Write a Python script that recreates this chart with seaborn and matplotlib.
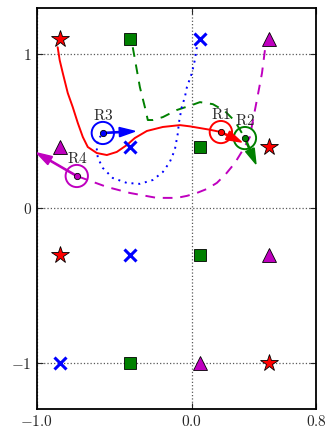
import numpy as np
import matplotlib
matplotlib.use('Agg')
import matplotlib.pyplot as plt
import seaborn as sns
from matplotlib.patches import Circle

sns.set_style('ticks')
plt.rcParams['mathtext.fontset'] = 'cm'
plt.rcParams['font.family'] = ['DejaVu Sans']

# цілі (маркери сітки)
star_x = [-0.85, 0.5, -0.85, 0.5]
star_y = [1.1, 0.4, -0.3, -1.0]
square_x = [-0.4, 0.05, 0.05, -0.4]
square_y = [1.1, 0.4, -0.3, -1.0]
cross_x = [0.05, -0.4, -0.4, -0.85]
cross_y = [1.1, 0.4, -0.3, -1.0]
tri_x = [0.5, -0.85, 0.5, 0.05]
tri_y = [1.1, 0.4, -0.3, -1.0]

# траєкторії
red_x = [-0.865, -0.852, -0.832, -0.800, -0.768, -0.735, -0.703, -0.671, -0.613,
         -0.548, -0.484, -0.419, -0.368, -0.290, -0.187, -0.077, -0.013, 0.116, 0.187]
red_y = [1.045, 0.961, 0.877, 0.748, 0.657, 0.553, 0.463, 0.398, 0.359,
         0.346, 0.366, 0.411, 0.456, 0.502, 0.528, 0.540, 0.532, 0.510, 0.495]
green_x = [-0.381, -0.335, -0.303, -0.284, -0.252, -0.187, -0.097, 0.0,
           0.052, 0.135, 0.213, 0.277, 0.342]
green_y = [1.045, 0.786, 0.657, 0.573, 0.573, 0.592, 0.638, 0.670,
           0.689, 0.676, 0.631, 0.566, 0.456]
blue_x = [0.032, 0.019, 0.0, -0.032, -0.045, -0.065, -0.084, -0.090, -0.110, -0.142,
          -0.187, -0.252, -0.335, -0.419, -0.510, -0.574, -0.606, -0.613, -0.606, -0.574]
blue_y = [1.045, 0.961, 0.877, 0.786, 0.722, 0.657, 0.553, 0.489, 0.379, 0.301,
          0.236, 0.184, 0.159, 0.165, 0.197, 0.262, 0.327, 0.379, 0.443, 0.489]
mag_x = [0.471, 0.452, 0.419, 0.394, 0.374, 0.329, 0.277, 0.219, 0.161, 0.097,
         0.032, -0.032, -0.097, -0.226, -0.400, -0.548, -0.671, -0.742]
mag_y = [1.026, 0.877, 0.702, 0.573, 0.463, 0.379, 0.294, 0.223, 0.165, 0.126,
         0.100, 0.081, 0.068, 0.068, 0.100, 0.139, 0.184, 0.210]

# роботи
robot_names = ['R1', 'R2', 'R3', 'R4']
robot_x = [0.187, 0.342, -0.574, -0.742]
robot_y = [0.495, 0.456, 0.489, 0.210]
tip_x = [0.32, 0.413, -0.368, -1.0]
tip_y = [0.43, 0.288, 0.50, 0.36]
robot_colors = ['red', 'green', 'blue', 'm']

xticks = [-1.0, 0.0, 0.8]
xtick_labels = ['$-1.0$', '$0.0$', '$0.8$']
yticks = [-1, 0, 1]
ytick_labels = ['$-1$', '$0$', '$1$']

fig = plt.figure(figsize=(3.34, 4.41), dpi=100)
ax = fig.add_axes([0.11, 0.073, 0.836, 0.909])

sns.lineplot(x=red_x, y=red_y, sort=False, estimator=None, color='red', lw=1.4, ax=ax)
sns.lineplot(x=green_x, y=green_y, sort=False, estimator=None, color='green', lw=1.4,
             linestyle=(0, (5, 4)), ax=ax)
sns.lineplot(x=blue_x, y=blue_y, sort=False, estimator=None, color='blue', lw=1.4,
             linestyle=(0, (1, 2.5)), ax=ax)
sns.lineplot(x=mag_x, y=mag_y, sort=False, estimator=None, color='m', lw=1.4,
             linestyle=(0, (5, 4)), ax=ax)

ax.plot(star_x, star_y, ls='none', marker='*', color='red', mec='k', mew=0.6, ms=13)
ax.plot(square_x, square_y, ls='none', marker='s', color='green', mec='k', mew=0.6, ms=8)
ax.plot(cross_x, cross_y, ls='none', marker='x', color='blue', mew=2.2, ms=8)
ax.plot(tri_x, tri_y, ls='none', marker='^', color='m', mec='k', mew=0.6, ms=10)

for name, x, y, tx, ty, c in zip(robot_names, robot_x, robot_y, tip_x, tip_y, robot_colors):
    ax.add_patch(Circle((x, y), 0.072, fill=False, ec=c, lw=1.4, zorder=4))
    ax.arrow(x, y, tx - x, ty - y, width=0.008, head_width=0.06, head_length=0.1,
             length_includes_head=True, color=c, zorder=5)
    ax.plot([x], [y], marker='o', color=c, mec='k', mew=0.6, ms=4.5, zorder=6)
    ax.text(x, y + 0.065, '$\\mathrm{%s}$' % name, ha='center', va='bottom', fontsize=11)

ax.set_xlim(-1.0, 0.8)
ax.set_ylim(-1.3, 1.3)
ax.set_xticks(xticks)
ax.set_xticklabels(xtick_labels, fontsize=11)
ax.set_yticks(yticks)
ax.set_yticklabels(ytick_labels, fontsize=11)
ax.grid(True, color='0.35', ls=':', lw=0.9)
ax.tick_params(direction='in', top=True, right=True, length=4)
for s in ax.spines.values():
    s.set_linewidth(1.3)
    s.set_color('k')

fig.savefig('out.png', dpi=100)
